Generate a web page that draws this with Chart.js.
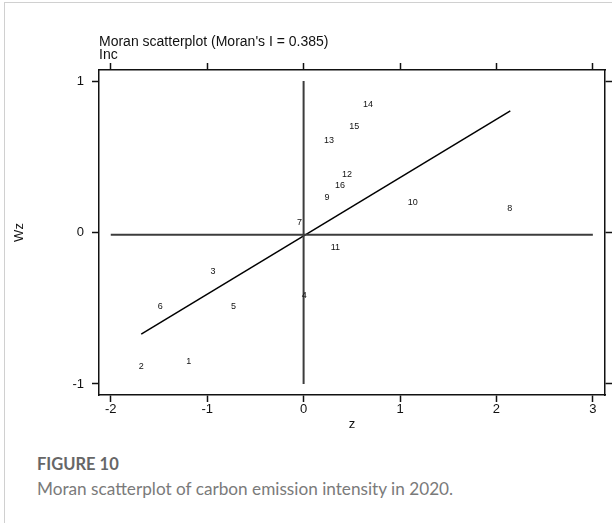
<!DOCTYPE html>
<html><head><meta charset="utf-8">
<script src="https://cdn.jsdelivr.net/npm/chart.js@4.4.0/dist/chart.umd.min.js"></script>
<style>
html,body{margin:0;padding:0;background:#fff;width:612px;height:523px;overflow:hidden;}
#frame{position:absolute;left:4px;top:2px;width:700px;height:600px;border-left:1px solid #d0d0d0;border-top:1px solid #d0d0d0;}
#wrap{position:absolute;left:0;top:0;width:612px;height:440px;}
#cap1{position:absolute;left:37px;top:454px;font-family:Lato,'Open Sans',sans-serif;font-weight:bold;font-size:16.5px;color:#666;white-space:nowrap;}
#cap2{position:absolute;left:37px;top:478px;font-family:Lato,'Open Sans',sans-serif;font-size:17.2px;color:#7a7a7a;white-space:nowrap;}
</style></head><body>
<div id="frame"></div>
<div id="wrap"><canvas id="c" width="612" height="440"></canvas></div>
<div id="cap1">FIGURE 10</div>
<div id="cap2">Moran scatterplot of carbon emission intensity in 2020.</div>
<script>
// ---- data ----
const ids    = ['1','2','3','4','5','6','7','8','9','10','11','12','13','14','15','16'];
const zVals  = [-1.190,-1.685,-0.940, 0.007,-0.727,-1.487,-0.042, 2.138, 0.243, 1.131, 0.329, 0.450, 0.264, 0.668, 0.526, 0.378];
const wzVals = [-0.853,-0.886,-0.259,-0.417,-0.487,-0.490, 0.069, 0.157, 0.232, 0.197,-0.100, 0.380, 0.606, 0.846, 0.703, 0.309];
const xTicks = [-2,-1,0,1,2,3];
const yTicks = [-1,0,1];
const fitZ   = [-1.684, 2.144];
const fitWz  = [-0.671, 0.803];
const vLineZ = [0, 0];
const vLineWz= [-1, 1];
const hLineZ = [-2, 3];
const hLineWz= [-0.015, -0.015];
const titleText = "Moran scatterplot (Moran's I = 0.385)";
const subText = "Inc";

const pts = (xs, ys) => xs.map((x, i) => ({x: x, y: ys[i]}));
const FONT = "'Liberation Sans', Arial, Helvetica, sans-serif";
const INK = '#111';

const labelPlugin = {
  id: 'pointLabels',
  afterDatasetsDraw(chart) {
    const meta = chart.getDatasetMeta(3);
    const ctx = chart.ctx;
    ctx.save();
    ctx.font = '9px ' + FONT;
    ctx.fillStyle = INK;
    ctx.textAlign = 'center';
    ctx.textBaseline = 'middle';
    meta.data.forEach((el, i) => { ctx.fillText(ids[i], el.x, el.y); });
    ctx.restore();
  }
};

const gridOpts = {drawOnChartArea:false, drawTicks:true, tickLength:7, tickWidth:1.5, tickColor:INK};
const borderOpts = {display:true, color:INK, width:1.5};
const setTicks = arr => (s => { s.ticks = arr.map(v => ({value:v})); });

new Chart(document.getElementById('c'), {
  type: 'scatter',
  data: {
    datasets: [
      {data: pts(hLineZ, hLineWz), showLine:true, borderColor:'#3c3c3c', borderWidth:2, pointRadius:0},
      {data: pts(vLineZ, vLineWz), showLine:true, borderColor:'#3c3c3c', borderWidth:2, pointRadius:0},
      {data: pts(fitZ, fitWz), showLine:true, borderColor:'#000', borderWidth:1.5, pointRadius:0},
      {data: pts(zVals, wzVals), showLine:false, pointRadius:0, pointHoverRadius:0}
    ]
  },
  options: {
    responsive:false, animation:false, events:[],
    layout:{padding:0},
    plugins:{
      legend:{display:false}, tooltip:{enabled:false},
      title:{display:true, text:titleText, align:'start', fullSize:false, color:INK,
             font:{family:FONT, size:14, weight:'normal', lineHeight:1}, padding:{top:35, bottom:0}},
      subtitle:{display:true, text:subText, align:'start', fullSize:false, color:INK,
             font:{family:FONT, size:14, weight:'normal', lineHeight:0.85}, padding:{top:0, bottom:0}}
    },
    scales:{
      x:{type:'linear', position:'bottom', min:-2.122, max:3.126,
         afterBuildTicks:setTicks(xTicks), afterFit:s=>{s.height=45;},
         grid:gridOpts, border:borderOpts,
         ticks:{color:INK, font:{family:FONT, size:13}, padding:0, maxRotation:0, autoSkip:false},
         title:{display:true, text:'z', color:INK, font:{family:FONT, size:13, lineHeight:1.2}, padding:{top:0, bottom:8}}},
      x2:{type:'linear', position:'top', min:-2.122, max:3.126,
         afterBuildTicks:setTicks(xTicks), afterFit:s=>{s.height=9.1;},
         grid:gridOpts, border:borderOpts, ticks:{display:false}},
      y:{type:'linear', position:'left', min:-1.073, max:1.073,
         afterBuildTicks:setTicks(yTicks), afterFit:s=>{s.width=99;},
         grid:gridOpts, border:borderOpts,
         ticks:{color:INK, font:{family:FONT, size:13}, padding:8, autoSkip:false},
         title:{display:true, text:'Wz', color:INK, font:{family:FONT, size:13, lineHeight:1.2}, padding:{top:12, bottom:0}}},
      y2:{type:'linear', position:'right', min:-1.073, max:1.073,
         afterBuildTicks:setTicks(yTicks), afterFit:s=>{s.width=7;},
         grid:gridOpts, border:borderOpts, ticks:{display:false}}
    }
  },
  plugins:[labelPlugin]
});
</script>
</body></html>
